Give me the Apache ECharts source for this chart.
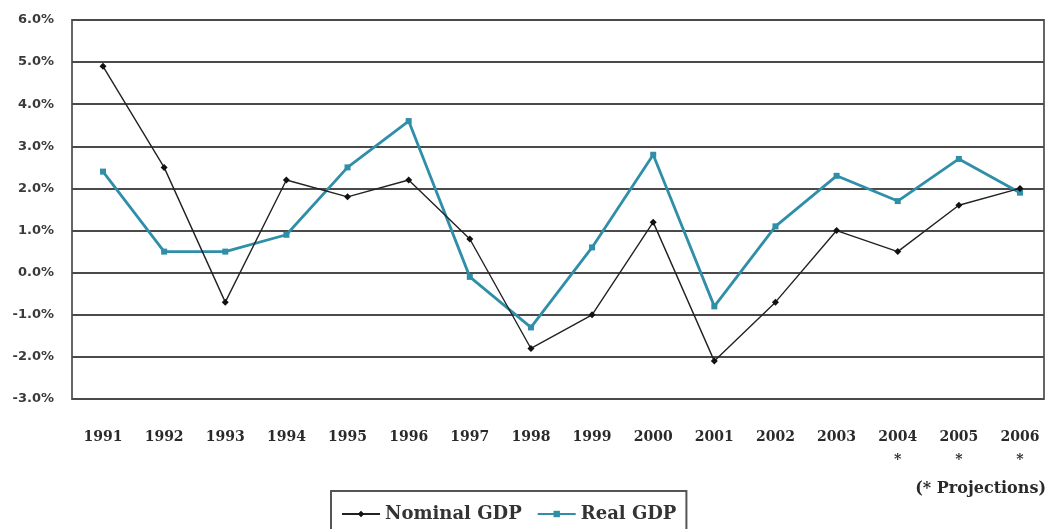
<!DOCTYPE html>
<html><head><meta charset="utf-8">
<script src="https://cdn.jsdelivr.net/npm/echarts@6/dist/echarts.min.js"></script>
<style>html,body{margin:0;padding:0;background:#fff}#c{width:1051px;height:529px}</style>
</head><body><div id="c"></div>
<script>
const years = ['1991','1992','1993','1994','1995','1996','1997','1998','1999','2000','2001','2002','2003','2004','2005','2006'];
const projectedYears = ['2004','2005','2006'];
const nominalGDP = [4.9, 2.5, -0.7, 2.2, 1.8, 2.2, 0.8, -1.8, -1.0, 1.2, -2.1, -0.7, 1.0, 0.5, 1.6, 2.0];
const realGDP = [2.4, 0.5, 0.5, 0.9, 2.5, 3.6, -0.1, -1.3, 0.6, 2.8, -0.8, 1.1, 2.3, 1.7, 2.7, 1.9];
const yMin = -3, yMax = 6, yStep = 1;

const chart = echarts.init(document.getElementById('c'));
const gridCol = '#4a4a4a';
chart.setOption({
  animation: false,
  backgroundColor: '#fff',
  grid: [
    {left: 103, right: 31, top: 20, bottom: 130},
    {left: 72, right: 7, top: 20, bottom: 130, show: true, borderColor: '#666', borderWidth: 2, backgroundColor: 'transparent'}
  ],
  xAxis: [
    {type: 'category', gridIndex: 0, data: years, boundaryGap: false,
     axisLine: {show: false}, axisTick: {show: false},
     axisLabel: {margin: 27, color: '#2a2a2a', fontFamily: 'DejaVu Serif', fontWeight: 'bold', fontSize: 14, lineHeight: 23, interval: 0,
       formatter: v => projectedYears.includes(v) ? v + '\n*' : v}},
    {type: 'category', gridIndex: 1, data: years, show: false}
  ],
  yAxis: [
    {type: 'value', gridIndex: 0, min: yMin, max: yMax, interval: yStep, show: false},
    {type: 'value', gridIndex: 1, min: yMin, max: yMax, interval: yStep,
     axisLine: {show: false}, axisTick: {show: false},
     splitLine: {lineStyle: {color: gridCol, width: 2}},
     axisLabel: {margin: 18, color: '#3a3a3a', fontFamily: 'DejaVu Sans', fontWeight: 'bold', fontSize: 13,
       formatter: v => v.toFixed(1) + '%'}}
  ],
  legend: {
    top: 491, left: 331,
    padding: [14, 10, 20, 10],
    borderColor: '#555', borderWidth: 2,
    itemGap: 15, itemWidth: 38, itemHeight: 8,
    textStyle: {fontFamily: 'DejaVu Serif', fontWeight: 'bold', fontSize: 18, color: '#333'},
    data: ['Nominal GDP', 'Real GDP']
  },
  graphic: [
    {type: 'text', right: 5, top: 481, style: {text: '(* Projections)', fontFamily: 'DejaVu Serif', fontWeight: 'bold', fontSize: 16, fill: '#2a2a2a'}}
  ],
  series: [
    {name: 'Nominal GDP', type: 'line', xAxisIndex: 0, yAxisIndex: 0, data: nominalGDP,
     symbol: 'diamond', symbolSize: 7, color: '#111',
     lineStyle: {color: '#222', width: 1.4}, itemStyle: {color: '#111'}, z: 3},
    {name: 'Real GDP', type: 'line', xAxisIndex: 0, yAxisIndex: 0, data: realGDP,
     symbol: 'rect', symbolSize: 6, color: '#2f8ea8',
     lineStyle: {color: '#2f8ea8', width: 2.8}, itemStyle: {color: '#2f8ea8'}, z: 2}
  ]
});
</script></body></html>
